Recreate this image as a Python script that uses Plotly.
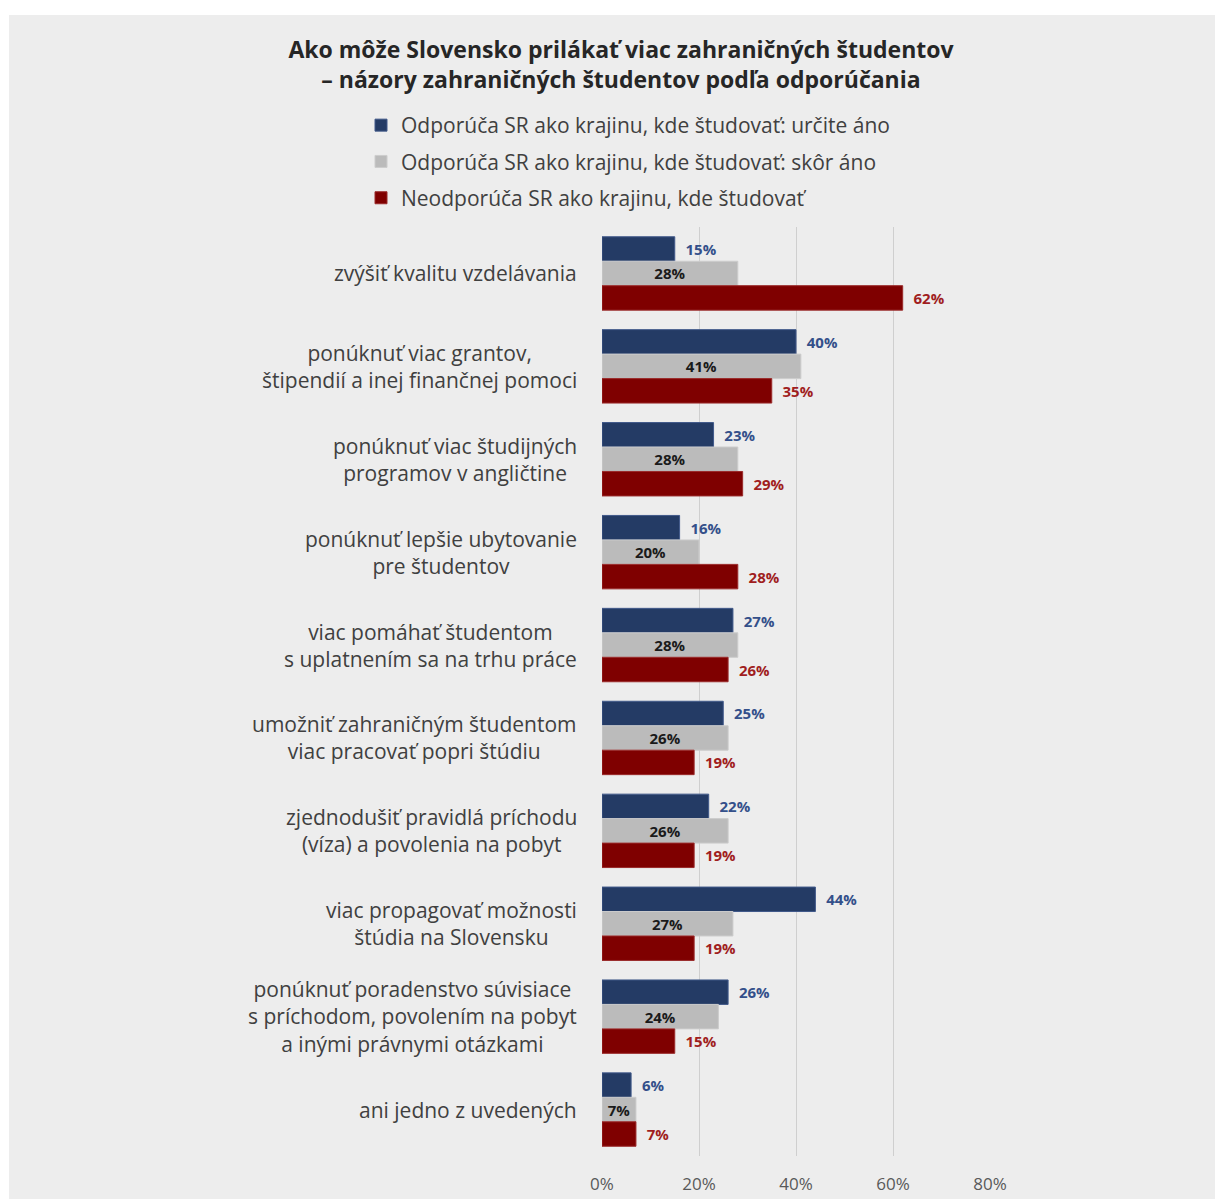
import plotly.graph_objects as go

# Categories (top to bottom) and shares per recommendation group
categories = [
    "zvýšiť kvalitu vzdelávania",
    "ponúknuť viac grantov,<br>štipendií a inej finančnej pomoci",
    "ponúknuť viac študijných<br>programov v angličtine",
    "ponúknuť lepšie ubytovanie<br>pre študentov",
    "viac pomáhať študentom<br>s uplatnením sa na trhu práce",
    "umožniť zahraničným študentom<br>viac pracovať popri štúdiu",
    "zjednodušiť pravidlá príchodu<br>(víza) a povolenia na pobyt",
    "viac propagovať možnosti<br>štúdia na Slovensku",
    "ponúknuť poradenstvo súvisiace<br>s príchodom, povolením na pobyt<br>a inými právnymi otázkami",
    "ani jedno z uvedených",
]
urcite_ano = [0.15, 0.40, 0.23, 0.16, 0.27, 0.25, 0.22, 0.44, 0.26, 0.06]
skor_ano = [0.28, 0.41, 0.28, 0.20, 0.28, 0.26, 0.26, 0.27, 0.24, 0.07]
neodporuca = [0.62, 0.35, 0.29, 0.28, 0.26, 0.19, 0.19, 0.19, 0.15, 0.07]

series_names = [
    "Odporúča SR ako krajinu, kde študovať: určite áno",
    "Odporúča SR ako krajinu, kde študovať: skôr áno",
    "Neodporúča SR ako krajinu, kde študovať",
]

FONT = "Open Sans"
BG = "#EDEDED"
W, H = 1223, 1199
L, R, T, B = 594, 241, 219, 51
PW, PH = W - L - R, H - T - B

fig = go.Figure()

fig.add_trace(go.Bar(
    y=categories, x=urcite_ano, name=series_names[0], orientation="h",
    legendgroup="a",
    marker=dict(color="#243B65", line=dict(color="#41598A", width=1)),
    texttemplate="\u00a0\u00a0%{x:.0%}", textposition="outside", textangle=0,
    textfont=dict(family=FONT, size=15, color="#34508A", weight="bold"),
    cliponaxis=False,
))
fig.add_trace(go.Bar(
    y=categories, x=skor_ano, name=series_names[1], orientation="h",
    legendgroup="b",
    marker=dict(color="#BBBBBB", line=dict(color="#CCCCCC", width=1)),
    texttemplate="%{x:.0%}", textposition="inside", insidetextanchor="middle",
    textangle=0,
    textfont=dict(family=FONT, size=15, color="#1A1A1A", weight="bold"),
    constraintext="none", cliponaxis=False,
))
fig.add_trace(go.Bar(
    y=categories, x=neodporuca, name=series_names[2], orientation="h",
    legendgroup="c",
    marker=dict(color="#7F0000", line=dict(color="#9A2A2A", width=1)),
    texttemplate="\u00a0\u00a0%{x:.0%}", textposition="outside", textangle=0,
    textfont=dict(family=FONT, size=15, color="#A01E1E", weight="bold"),
    cliponaxis=False,
))

# Category labels, centered lines, right-aligned block
for cat in categories:
    fig.add_annotation(
        x=0, xref="paper", xshift=-23, xanchor="right",
        y=cat, yref="y", yanchor="middle",
        text=cat, showarrow=False, align="center",
        font=dict(family=FONT, size=21, color="#404040"),
    )

fig.update_layout(
    width=W, height=H,
    margin=dict(l=L, r=R, t=T, b=B, autoexpand=False),
    paper_bgcolor="white",
    plot_bgcolor=BG,
    barmode="group",
    bargap=0.21,
    bargroupgap=0,
    font=dict(family=FONT),
    title=dict(
        text="Ako môže Slovensko prilákať viac zahraničných študentov<br>– názory zahraničných študentov podľa odporúčania",
        x=613 / W, xanchor="center", xref="container",
        y=1 - 50 / H, yanchor="top", yref="container",
        font=dict(family=FONT, size=23, color="#262626", weight="bold"),
    ),
    legend=dict(
        orientation="v",
        x=353 / W, xref="container", xanchor="left",
        y=1 - 97 / H, yref="container", yanchor="top",
        bgcolor="rgba(0,0,0,0)",
        font=dict(family=FONT, size=21, color="#404040"),
        traceorder="grouped", tracegroupgap=6,
    ),
    xaxis=dict(
        range=[0, 0.8], dtick=0.2, tickformat=".0%",
        showgrid=True, gridcolor="#CFCFCF", gridwidth=1,
        zeroline=False, showline=False,
        ticklabelstandoff=16, tickangle=0,
        tickfont=dict(family=FONT, size=17, color="#595959"),
    ),
    yaxis=dict(
        autorange="reversed", showticklabels=False,
        showgrid=False, zeroline=False, showline=False,
    ),
    shapes=[dict(
        type="rect", xref="paper", yref="paper", layer="below",
        x0=(1 - L) / PW, x1=(W - L) / PW,
        y0=-B / PH, y1=(PH + T - 7) / PH,
        fillcolor=BG, line=dict(width=0),
    )],
)

fig.write_html("out.html")
